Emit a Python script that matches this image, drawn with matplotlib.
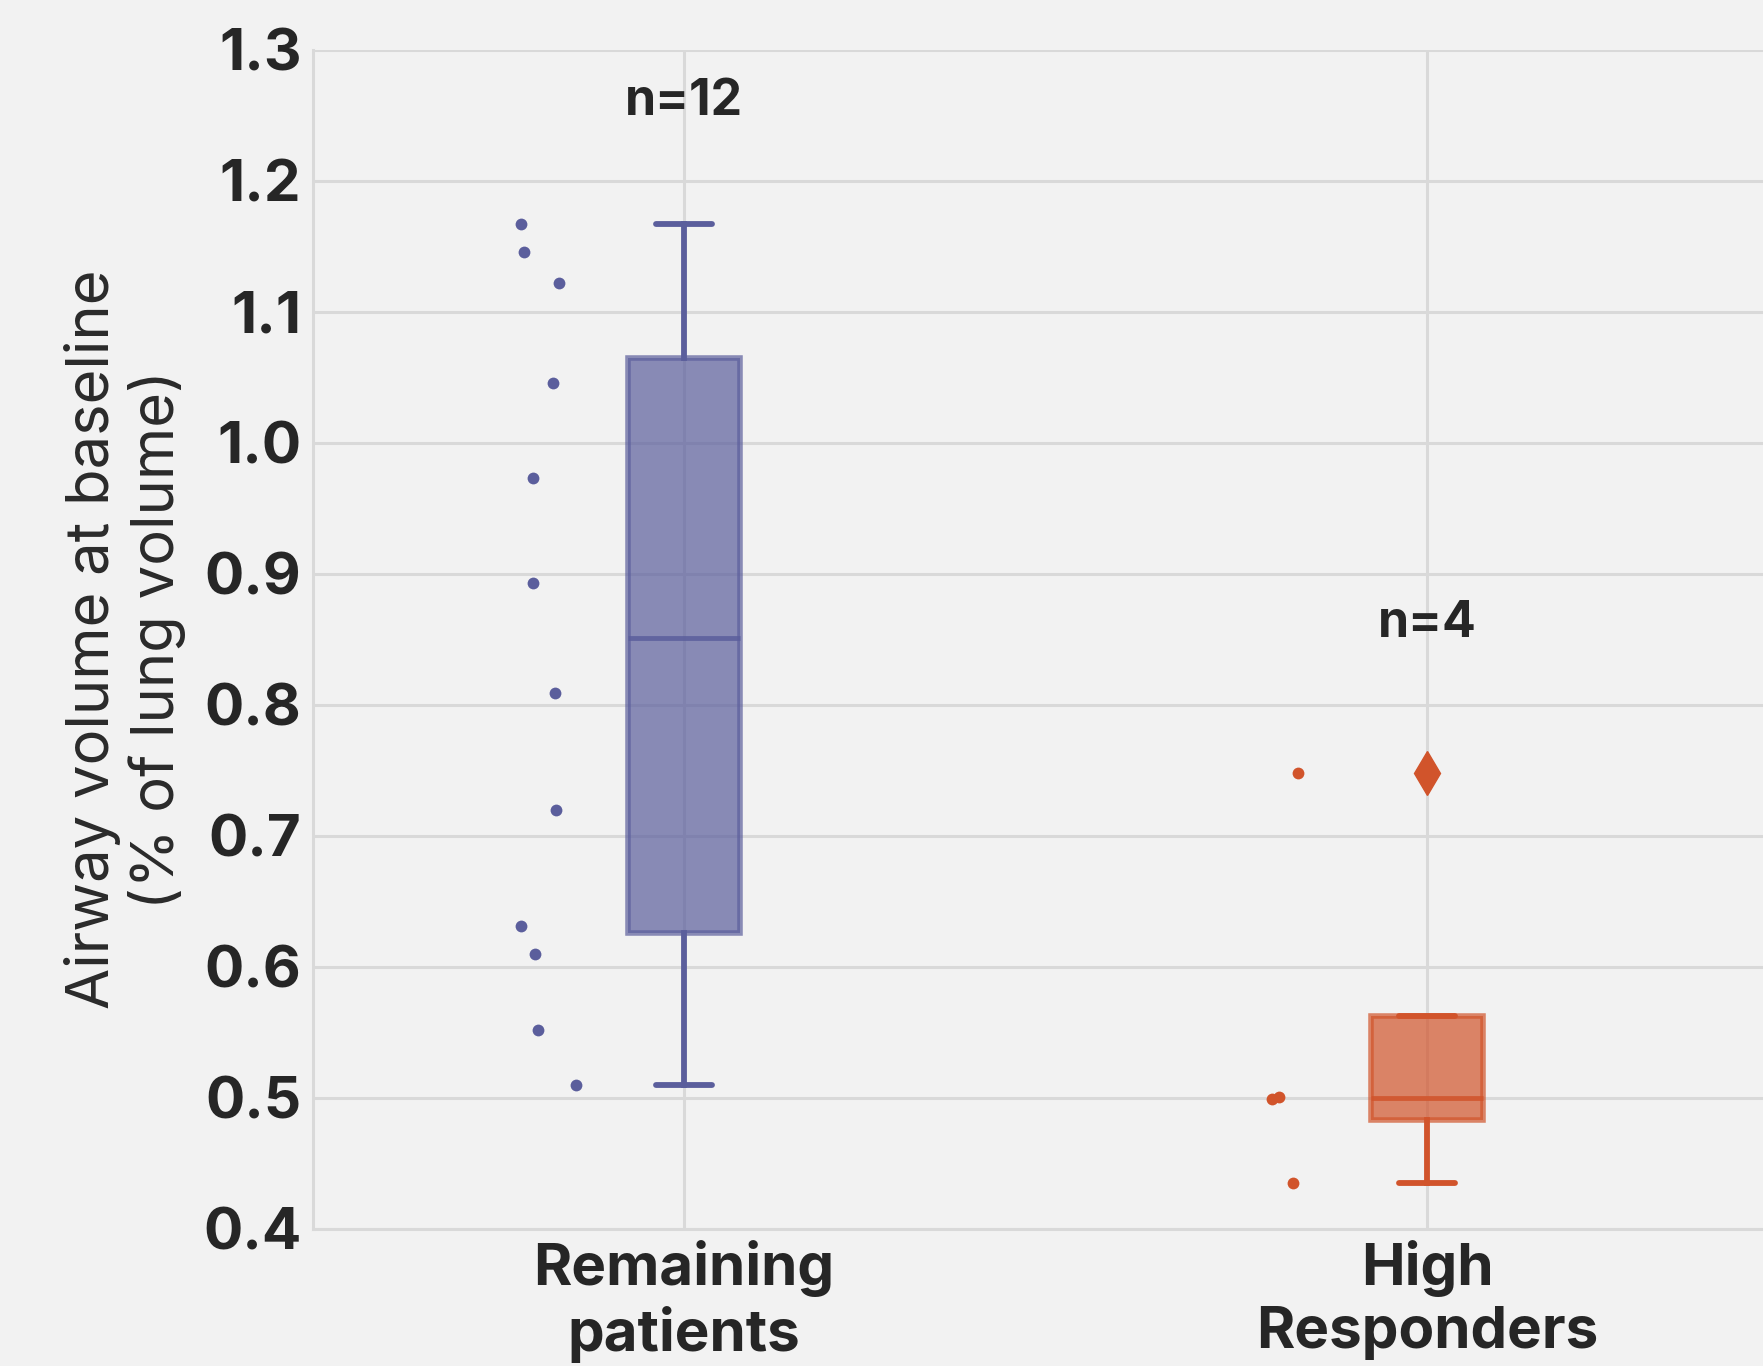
import matplotlib.pyplot as plt
import numpy as np

plt.rcParams['font.family'] = ['Inter', 'DejaVu Sans']

# data
groups = ['Remaining\npatients', 'High\nResponders']
counts = ['n=12', 'n=4']
remaining = [1.167, 1.146, 1.122, 1.046, 0.973, 0.893, 0.809, 0.720, 0.631, 0.610, 0.552, 0.510]
remaining_jitter = [-0.219, -0.216, -0.169, -0.177, -0.204, -0.204, -0.174, -0.172, -0.219, -0.200, -0.197, -0.145]
high = [0.748, 0.499, 0.501, 0.435]
high_jitter = [-0.174, -0.209, -0.200, -0.180]
count_y = [1.261, 0.862]
yticks = [0.4, 0.5, 0.6, 0.7, 0.8, 0.9, 1.0, 1.1, 1.2, 1.3]

colors = ['#5b5e9c', '#d1542b']
bg = '#f2f2f2'
gridc = '#d9d9d9'

fig = plt.figure(figsize=(17.63, 13.66), dpi=100, facecolor=bg)
ax = fig.add_axes([0.1773, 0.1003, 0.8429, 0.8631], facecolor=bg)
ax.set_axisbelow(True)

data = [remaining, high]
jitters = [remaining_jitter, high_jitter]
bp = ax.boxplot(data, positions=[0, 1], widths=0.15, patch_artist=True, whis=1.5)

for i, c in enumerate(colors):
    box = bp['boxes'][i]
    box.set_facecolor(c)
    box.set_edgecolor(c)
    box.set_alpha(0.7)
    box.set_linewidth(4)
    for w in bp['whiskers'][2 * i:2 * i + 2]:
        w.set_color(c)
        w.set_linewidth(4.2)
    for cap in bp['caps'][2 * i:2 * i + 2]:
        cap.set_color(c)
        cap.set_linewidth(4.2)
        cap.set_solid_capstyle('round')
    med = bp['medians'][i]
    med.set_color(c)
    med.set_linewidth(3.5)
    med.set_alpha(0.85)
    fl = bp['fliers'][i]
    fl.set_marker('d')
    fl.set_markerfacecolor(c)
    fl.set_markeredgecolor(c)
    fl.set_markersize(22)

    xs = np.array(jitters[i]) + i
    ax.plot(xs, data[i], 'o', color=c, markersize=8.5, markeredgewidth=0, zorder=3)
    ax.text(i, count_y[i], counts[i], ha='center', va='center',
            fontsize=36, fontweight='bold', color='#262626')

ax.set_xlim(-0.5, 1.5)
ax.set_ylim(0.4, 1.3)
ax.set_xticks([0, 1])
ax.set_xticklabels(groups)
ax.set_yticks(yticks)
ax.set_yticklabels([f'{v:.1f}' for v in yticks])
ax.tick_params(length=0, labelsize=42, colors='#262626', pad=8)
for lab in ax.get_xticklabels() + ax.get_yticklabels():
    lab.set_fontweight('bold')
ax.grid(True, color=gridc, linewidth=2.2)
for s in ['top', 'right']:
    ax.spines[s].set_visible(False)
for s in ['left', 'bottom']:
    ax.spines[s].set_color(gridc)
    ax.spines[s].set_linewidth(2.2)

ax.set_ylabel('Airway volume at baseline\n(% of lung volume)', fontsize=43,
              color='#2a2a2a', labelpad=12, linespacing=1.17)

fig.savefig('out.png', dpi=100, facecolor=bg)
